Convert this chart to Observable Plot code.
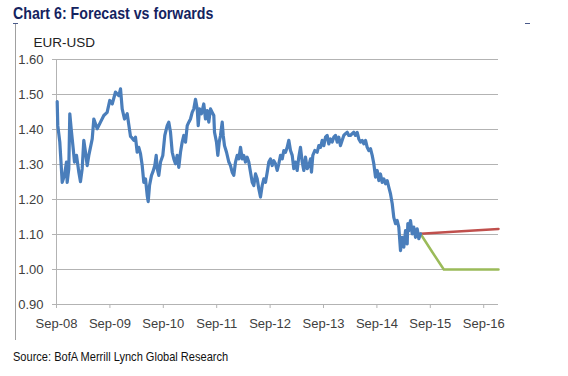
<!DOCTYPE html>
<html>
<head>
<meta charset="utf-8">
<script src="https://cdn.jsdelivr.net/npm/d3@7"></script>
<script src="https://cdn.jsdelivr.net/npm/@observablehq/plot@0.6"></script>
<style>
  html, body { margin: 0; padding: 0; background: #fff; }
  body { width: 568px; height: 376px; position: relative; overflow: hidden; }
  #title { position: absolute; left: 13px; top: 5px; font: bold 17px/17px "Liberation Sans", Arial, sans-serif; color: #14235f; white-space: nowrap; transform: scaleX(0.835); transform-origin: 0 0; }
  #chart { position: absolute; left: 0; top: 30px; }
  #source { position: absolute; left: 13px; top: 350px; font: 13px/13px "Liberation Sans", Arial, sans-serif; color: #111; white-space: nowrap; transform: scaleX(0.85); transform-origin: 0 0; }
  .deco { position: absolute; }
</style>
</head>
<body>
<div class="deco" style="left:15px;top:23px;width:1px;height:317px;background:#a0a0a0"></div>
<div class="deco" style="left:13px;top:23px;width:5px;height:1px;background:#4a5a8a"></div>
<div class="deco" style="left:525px;top:23px;width:5px;height:1px;background:#4a5a8a"></div>
<div id="title">Chart 6: Forecast vs forwards</div>
<div id="chart"></div>
<div id="source">Source: BofA Merrill Lynch Global Research</div>
<script>
// Spot EUR-USD (decimal years, values)
const spotYears = [2008.680,2008.691,2008.729,2008.774,2008.817,2008.854,2008.867,2008.897,2008.916,2008.942,2008.980,2009.004,2009.042,2009.085,2009.116,2009.148,2009.178,2009.210,2009.242,2009.272,2009.336,2009.366,2009.429,2009.491,2009.553,2009.615,2009.665,2009.710,2009.772,2009.834,2009.866,2009.897,2009.940,2009.991,2010.053,2010.071,2010.115,2010.146,2010.178,2010.208,2010.240,2010.272,2010.302,2010.334,2010.366,2010.384,2010.409,2010.446,2010.470,2010.508,2010.534,2010.553,2010.583,2010.615,2010.658,2010.695,2010.740,2010.770,2010.802,2010.834,2010.864,2010.895,2010.927,2010.957,2010.989,2011.021,2011.051,2011.083,2011.115,2011.145,2011.176,2011.208,2011.238,2011.270,2011.302,2011.321,2011.345,2011.382,2011.425,2011.457,2011.489,2011.519,2011.551,2011.583,2011.613,2011.626,2011.663,2011.688,2011.714,2011.738,2011.770,2011.789,2011.813,2011.851,2011.894,2011.925,2011.957,2011.987,2012.019,2012.051,2012.081,2012.113,2012.145,2012.174,2012.206,2012.238,2012.268,2012.300,2012.332,2012.362,2012.394,2012.425,2012.455,2012.487,2012.519,2012.549,2012.581,2012.613,2012.643,2012.674,2012.706,2012.736,2012.768,2012.800,2012.830,2012.862,2012.894,2012.924,2012.955,2012.987,2013.017,2013.049,2013.081,2013.111,2013.143,2013.174,2013.204,2013.236,2013.268,2013.298,2013.330,2013.362,2013.392,2013.424,2013.442,2013.467,2013.504,2013.549,2013.579,2013.611,2013.643,2013.673,2013.704,2013.736,2013.766,2013.798,2013.830,2013.860,2013.892,2013.924,2013.954,2013.985,2014.017,2014.047,2014.079,2014.111,2014.141,2014.173,2014.204,2014.234,2014.266,2014.298,2014.328,2014.360,2014.392,2014.422,2014.454,2014.485,2014.515,2014.547,2014.579,2014.609,2014.641,2014.673,2014.703,2014.734,2014.766,2014.796,2014.828,2014.860,2014.890,2014.922,2014.954,2014.983,2015.015,2015.047,2015.077,2015.109,2015.141,2015.171,2015.203,2015.234,2015.246,2015.264,2015.296,2015.328,2015.358,2015.390,2015.422,2015.452,2015.483];
const spotValues = [1.480,1.411,1.364,1.249,1.269,1.307,1.249,1.288,1.445,1.402,1.345,1.307,1.326,1.278,1.251,1.288,1.369,1.335,1.297,1.326,1.373,1.430,1.402,1.421,1.440,1.449,1.483,1.473,1.507,1.497,1.516,1.459,1.430,1.445,1.380,1.378,1.369,1.378,1.335,1.349,1.331,1.297,1.249,1.259,1.211,1.194,1.240,1.269,1.278,1.297,1.326,1.288,1.269,1.307,1.326,1.383,1.411,1.421,1.392,1.335,1.316,1.302,1.326,1.292,1.335,1.364,1.383,1.364,1.411,1.421,1.430,1.449,1.459,1.486,1.459,1.411,1.459,1.445,1.473,1.430,1.454,1.421,1.459,1.449,1.440,1.392,1.364,1.326,1.364,1.383,1.421,1.383,1.354,1.335,1.307,1.297,1.278,1.269,1.307,1.326,1.316,1.349,1.316,1.326,1.307,1.321,1.307,1.278,1.249,1.240,1.273,1.259,1.231,1.207,1.240,1.259,1.249,1.278,1.307,1.316,1.297,1.311,1.302,1.283,1.302,1.326,1.316,1.340,1.335,1.349,1.369,1.340,1.326,1.288,1.307,1.283,1.321,1.349,1.307,1.283,1.321,1.288,1.297,1.316,1.278,1.326,1.340,1.335,1.354,1.349,1.369,1.354,1.378,1.383,1.359,1.373,1.364,1.378,1.383,1.364,1.378,1.354,1.369,1.383,1.388,1.392,1.383,1.383,1.388,1.392,1.383,1.392,1.373,1.364,1.369,1.359,1.369,1.349,1.340,1.345,1.326,1.302,1.264,1.283,1.254,1.273,1.249,1.259,1.245,1.254,1.235,1.216,1.188,1.149,1.131,1.140,1.121,1.054,1.092,1.064,1.111,1.073,1.131,1.111,1.140,1.102,1.121,1.092,1.116,1.088,1.102];

// Forwards (red) and forecast (green)
const forwardYears = [2015.483, 2016.944];
const forwardValues = [1.102, 1.116];
const forecastYears = [2015.483, 2015.703, 2015.920, 2016.944];
const forecastValues = [1.102, 1.050, 1.000, 1.000];

// Axes
const xTickValues = [2008.667, 2009.667, 2010.667, 2011.667, 2012.667, 2013.667, 2014.667, 2015.667, 2016.667];
const xTickLabels = ["Sep-08", "Sep-09", "Sep-10", "Sep-11", "Sep-12", "Sep-13", "Sep-14", "Sep-15", "Sep-16"];
const yTickValues = [0.9, 1.0, 1.1, 1.2, 1.3, 1.4, 1.5, 1.6];
const yLabel = ["EUR-USD"];

const spot = spotYears.map((t, i) => ({t, v: spotValues[i]}));
const fwd = forwardYears.map((t, i) => ({t, v: forwardValues[i]}));
const fc = forecastYears.map((t, i) => ({t, v: forecastValues[i]}));

const gridColor = "#b3b3b3";
const chart = Plot.plot({
  width: 568,
  height: 310,
  marginTop: 29,
  marginBottom: 36,
  marginLeft: 56,
  marginRight: 70,
  style: {fontFamily: "'Liberation Sans', Arial, sans-serif", fontSize: "13px", color: "#404040", background: "transparent", overflow: "visible"},
  x: {domain: [2008.667, 2016.944]},
  y: {domain: [0.9, 1.6]},
  marks: [
    Plot.ruleY(yTickValues, {stroke: gridColor}),
    Plot.ruleX([xTickValues[0]], {y1: 0.9, y2: 1.6, stroke: gridColor}),
    Plot.axisX({ticks: xTickValues, tickFormat: d => xTickLabels[xTickValues.indexOf(d)], tickSize: 4, tickPadding: 10, stroke: gridColor, fill: "#404040", label: null}),
    Plot.axisY({ticks: yTickValues, tickFormat: d3.format(".2f"), tickSize: 4, tickPadding: 9, stroke: gridColor, fill: "#404040", label: null}),
    Plot.line(fwd, {x: "t", y: "v", stroke: "#c0504d", strokeWidth: 2.5}),
    Plot.line(fc, {x: "t", y: "v", stroke: "#9bbb59", strokeWidth: 2.5}),
    Plot.line(spot, {x: "t", y: "v", stroke: "#4a7ebb", strokeWidth: 3.2, strokeLinejoin: "round"}),
    Plot.text(yLabel, {frameAnchor: "top-left", textAnchor: "start", lineAnchor: "middle", dx: -23, dy: -16.5, fill: "#222", fontSize: 13.5})
  ]
});
document.getElementById("chart").appendChild(chart);
</script>
</body>
</html>
